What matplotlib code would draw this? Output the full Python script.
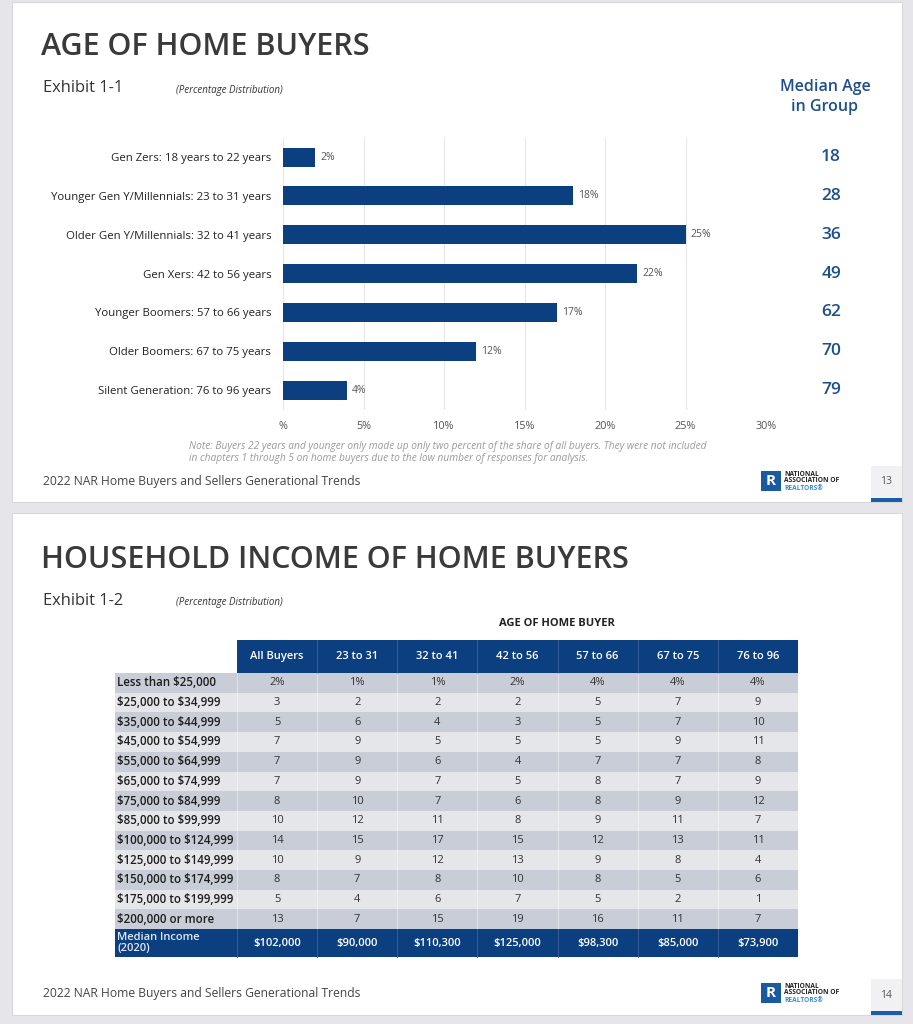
import matplotlib.pyplot as plt
from matplotlib.patches import Rectangle

plt.rcParams['font.family'] = ['Open Sans', 'DejaVu Sans']
plt.rcParams['text.parse_math'] = False

# --- Exhibit 1-1 : age of home buyers ---
age_groups = [
    'Gen Zers: 18 years to 22 years',
    'Younger Gen Y/Millennials: 23 to 31 years',
    'Older Gen Y/Millennials: 32 to 41 years',
    'Gen Xers: 42 to 56 years',
    'Younger Boomers: 57 to 66 years',
    'Older Boomers: 67 to 75 years',
    'Silent Generation: 76 to 96 years',
]
age_share = [2, 18, 25, 22, 17, 12, 4]
median_age = [18, 28, 36, 49, 62, 70, 79]
x_ticks = [0, 5, 10, 15, 20, 25, 30]
x_tick_labels = ['%', '5%', '10%', '15%', '20%', '25%', '30%']

# --- Exhibit 1-2 : household income of home buyers ---
income_brackets = [
    'Less than $25,000', '$25,000 to $34,999', '$35,000 to $44,999',
    '$45,000 to $54,999', '$55,000 to $64,999', '$65,000 to $74,999',
    '$75,000 to $84,999', '$85,000 to $99,999', '$100,000 to $124,999',
    '$125,000 to $149,999', '$150,000 to $174,999', '$175,000 to $199,999',
    '$200,000 or more',
]
col_headers = ['All Buyers', '23 to 31', '32 to 41', '42 to 56',
               '57 to 66', '67 to 75', '76 to 96']
all_buyers = [2, 3, 5, 7, 7, 7, 8, 10, 14, 10, 8, 5, 13]
age_23_31 = [1, 2, 6, 9, 9, 9, 10, 12, 15, 9, 7, 4, 7]
age_32_41 = [1, 2, 4, 5, 6, 7, 7, 11, 17, 12, 8, 6, 15]
age_42_56 = [2, 2, 3, 5, 4, 5, 6, 8, 15, 13, 10, 7, 19]
age_57_66 = [4, 5, 5, 5, 7, 8, 8, 9, 12, 9, 8, 5, 16]
age_67_75 = [4, 7, 7, 9, 7, 7, 9, 11, 13, 8, 5, 2, 11]
age_76_96 = [4, 9, 10, 11, 8, 9, 12, 7, 11, 4, 6, 1, 7]
median_income = [102000, 90000, 110300, 125000, 98300, 85000, 73900]

NAVY = '#0c3f80'
BLUE_TXT = '#1d4f8c'
DARK = '#333333'

W, H = 913, 1024
fig = plt.figure(figsize=(W / 100, H / 100), dpi=100)
fig.patch.set_facecolor('#e6e6ea')

# calque en pixels pour les fonds, textes et tableau
bg = fig.add_axes([0, 0, 1, 1])
bg.set_xlim(0, W)
bg.set_ylim(H, 0)
bg.axis('off')


def card(y0, y1, page, footer_y):
    bg.add_patch(Rectangle((12, y0), 890, y1 - y0, facecolor='white', edgecolor='#d8d8dc', lw=0.8))
    bg.add_patch(Rectangle((871, y1 - 36), 31, 36, facecolor='#f1f1f3', lw=0))
    bg.add_patch(Rectangle((871, y1 - 4), 31, 4, facecolor='#1a5ea8', lw=0))
    bg.text(886, y1 - 20, page, ha='center', va='center', fontsize=7.5, color='#555555')
    bg.text(43, footer_y, '2022 NAR Home Buyers and Sellers Generational Trends',
            ha='left', va='center', fontsize=8.7, color='#444444')
    # logo
    bg.add_patch(Rectangle((761, footer_y - 11), 20, 20, facecolor='#1a5a9e', lw=0))
    bg.text(771, footer_y - 1, 'R', ha='center', va='center', fontsize=11, color='white',
            fontweight='bold')
    bg.text(784, footer_y - 8, 'NATIONAL', fontsize=4.8, fontweight='bold', color='#222222', va='center')
    bg.text(784, footer_y - 1, 'ASSOCIATION OF', fontsize=4.8, fontweight='bold', color='#222222', va='center')
    bg.text(784, footer_y + 6, 'REALTORS®', fontsize=4.8, fontweight='bold', color='#3d8fd1', va='center')


card(2, 502, '13', 482)
card(513, 1015, '14', 994)

# ---------- slide 1 ----------
bg.text(41, 47, 'AGE OF HOME BUYERS', fontsize=22, color='#3a3a3a', va='center', ha='left',
        fontweight='semibold')
bg.text(43, 88, 'Exhibit 1-1', fontsize=11.8, color=DARK, va='center')
bg.text(176, 90, '(Percentage Distribution)', fontsize=7, style='italic', color=DARK, va='center')
bg.text(825, 97, 'Median Age\nin Group', fontsize=11.5, color=BLUE_TXT, ha='center', va='center',
        linespacing=1.3, fontweight='semibold')

ax = fig.add_axes([283 / W, 1 - 409.6 / H, (766 - 283) / W, 272 / H])
ax.patch.set_alpha(0)
ypos = list(range(len(age_groups)))
ax.barh(ypos, age_share, height=0.49, color=NAVY, zorder=3)
ax.set_xlim(0, 30)
ax.set_ylim(len(age_groups) - 0.5, -0.5)
ax.set_xticks(x_ticks)
ax.set_xticklabels(x_tick_labels, fontsize=7.8, color='#555555')
ax.set_yticks(ypos)
ax.set_yticklabels(age_groups, fontsize=8.2, color='#222222')
ax.tick_params(axis='both', length=0)
ax.tick_params(axis='x', pad=8)
ax.tick_params(axis='y', pad=8.5)
ax.grid(axis='x', color='#e4e6ea', lw=0.8, zorder=0)
for s in ax.spines.values():
    s.set_visible(False)
for y, v in zip(ypos, age_share):
    ax.text(v + 0.3, y, f'{v}%', va='center', ha='left', fontsize=7.5, color='#555555')

# âges médians, alignés sur les barres
for y, m in zip(ypos, median_age):
    yy = fig.transFigure.inverted().transform(ax.transData.transform((0, y)))[1]
    fig.text(831 / W, yy, str(m), ha='center', va='center', fontsize=12.5,
             color=BLUE_TXT, fontweight='semibold')

bg.text(189, 447, 'Note: Buyers 22 years and younger only made up only two percent of the share of all buyers. '
        'They were not included', fontsize=7.3, style='italic', color='#9a9a9a', va='center')
bg.text(189, 458, 'in chapters 1 through 5 on home buyers due to the low number of responses for analysis.',
        fontsize=7.3, style='italic', color='#9a9a9a', va='center')

# ---------- slide 2 ----------
bg.text(41, 560, 'HOUSEHOLD INCOME OF HOME BUYERS', fontsize=22, color='#3a3a3a', va='center', ha='left',
        fontweight='semibold')
bg.text(43, 601, 'Exhibit 1-2', fontsize=11.8, color=DARK, va='center')
bg.text(176, 603, '(Percentage Distribution)', fontsize=7, style='italic', color=DARK, va='center')
bg.text(557, 623, 'AGE OF HOME BUYER', fontsize=8, fontweight='bold', color='#222222',
        ha='center', va='center')

columns = [all_buyers, age_23_31, age_32_41, age_42_56, age_57_66, age_67_75, age_76_96]
lab_x0, tab_x0, col_w = 115, 237, 80.15
head_y0, head_h = 640, 33
row_h = 19.7
rows_y0 = head_y0 + head_h
n_rows = len(income_brackets)
tab_x1 = tab_x0 + col_w * len(col_headers)

# en-tête
bg.add_patch(Rectangle((tab_x0, head_y0), tab_x1 - tab_x0, head_h, facecolor=NAVY, lw=0))
for j, h in enumerate(col_headers):
    cx = tab_x0 + col_w * (j + 0.5)
    bg.text(cx, head_y0 + head_h / 2, h, ha='center', va='center', fontsize=8,
            color='white', fontweight='semibold')
    if j > 0:
        bg.plot([tab_x0 + col_w * j] * 2, [head_y0, head_y0 + head_h], color='#3a64a0', lw=0.6)

# lignes de données
for i, label in enumerate(income_brackets):
    y0 = rows_y0 + i * row_h
    shade = '#c9cdd7' if i % 2 == 0 else '#e5e6ea'
    bg.add_patch(Rectangle((lab_x0, y0), tab_x1 - lab_x0, row_h, facecolor=shade, lw=0))
    bg.text(lab_x0 + 2, y0 + row_h / 2, label, ha='left', va='center', fontsize=8.3,
            color='#1e1e1e', fontweight='semibold')
    for j, col in enumerate(columns):
        cx = tab_x0 + col_w * (j + 0.5)
        txt = f'{col[i]}%' if i == 0 else str(col[i])
        bg.text(cx, y0 + row_h / 2, txt, ha='center', va='center', fontsize=8, color='#333333')
for j in range(len(col_headers)):
    bg.plot([tab_x0 + col_w * j] * 2, [rows_y0, rows_y0 + n_rows * row_h], color='white', lw=0.5, alpha=0.6)

# revenu médian
my0 = rows_y0 + n_rows * row_h
med_h = 28
bg.add_patch(Rectangle((lab_x0, my0), tab_x1 - lab_x0, med_h, facecolor=NAVY, lw=0))
bg.text(lab_x0 + 2, my0 + med_h / 2, 'Median Income\n(2020)', ha='left', va='center', fontsize=8,
        color='#dfe8f4', fontweight='semibold', linespacing=0.95)
for j, v in enumerate(median_income):
    cx = tab_x0 + col_w * (j + 0.5)
    bg.text(cx, my0 + med_h / 2, f'${v:,}', ha='center', va='center', fontsize=8,
            color='white', fontweight='semibold')
    bg.plot([tab_x0 + col_w * j] * 2, [my0, my0 + med_h], color='#3a64a0', lw=0.6)

fig.savefig('out.png', dpi=100, facecolor=fig.get_facecolor())
